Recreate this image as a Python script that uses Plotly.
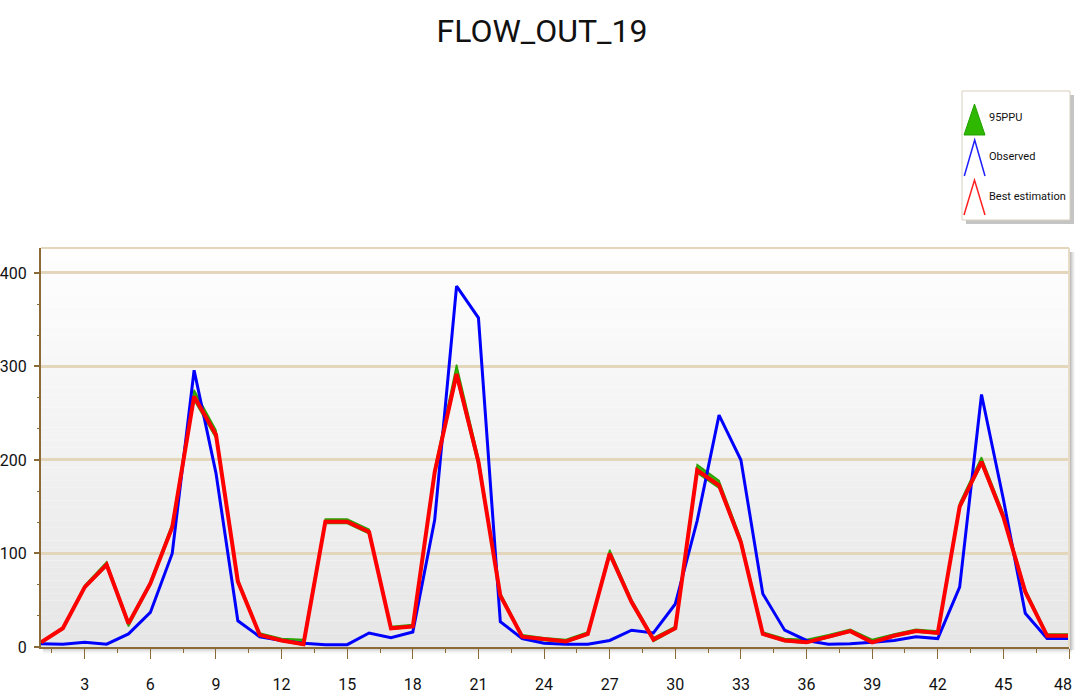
import plotly.graph_objects as go

# ---------------- data ----------------
steps = list(range(1, 49))

observed = [3.5, 3, 5, 3, 14, 37, 100, 296, 186, 28, 11, 7, 4, 2.5, 2.5, 15,
            10, 16, 136, 386, 352, 27, 9, 4, 3, 3, 7, 18, 15, 46, 135, 248,
            200, 57, 18, 7, 3, 3.5, 5, 7, 11, 9, 64, 270, 158, 36, 9, 9]

best_estimation = [5, 20, 64, 88, 25, 68, 128, 268, 227, 70, 13, 7, 3, 134, 134, 123,
                   20, 22, 187, 292, 198, 55, 11, 8, 6, 14, 100, 48, 8, 20, 189, 173,
                   112, 14, 7, 5, 11, 17, 5, 12, 17, 15, 150, 198, 139, 59, 12, 12]

ppu_upper = [6, 21, 66, 91, 27, 70, 132, 275, 232, 73, 15, 9, 8, 137, 137, 126,
             22, 24, 191, 302, 203, 58, 13, 10, 8, 16, 104, 51, 10, 22, 195, 178,
             116, 16, 9, 8, 13, 19, 8, 14, 19, 17, 154, 203, 143, 62, 14, 14]

ppu_lower = [4, 19, 63, 86, 22, 66, 126, 264, 223, 68, 12, 6, 2, 132, 132, 121,
             19, 21, 184, 288, 193, 54, 10, 7, 5, 13, 97, 46, 6, 19, 186, 170,
             110, 13, 6, 4, 10, 16, 4, 11, 16, 14, 148, 195, 137, 57, 11, 11]

x_tick_values = [3, 6, 9, 12, 15, 18, 21, 24, 27, 30, 33, 36, 39, 42, 45, 48]
x_tick_labels = ["3", "6", "9", "12", "15", "18", "21", "24", "27", "30", "33",
                 "36", "39", "42", "45", "48"]

title_text = "FLOW_OUT_19"
legend_labels = ["95PPU", "Observed", "Best estimation"]

# ---------------- styling ----------------
W, H = 1075, 697
ML, MR, MT, MB = 41, 6, 248, 50
PL, PR, PT, PB = ML, W - MR, MT, H - MB

FONT = "Roboto, Liberation Sans, sans-serif"
GRID = "#e3d6bb"
AXIS = "#8a6a35"


def fx(px):
    return (px - PL) / (PR - PL)


def fy(py):
    return (PB - py) / (PB - PT)


fig = go.Figure()

fig.add_trace(go.Scatter(x=steps, y=ppu_lower, mode="lines",
                         line=dict(color="#2aa000", width=1.5),
                         hoverinfo="skip", showlegend=False))
fig.add_trace(go.Scatter(x=steps, y=ppu_upper, mode="lines", fill="tonexty",
                         fillcolor="#33b800",
                         line=dict(color="#2aa000", width=1.5),
                         name=legend_labels[0], showlegend=False))
fig.add_trace(go.Scatter(x=steps, y=observed, mode="lines",
                         line=dict(color="#0000ff", width=3),
                         name=legend_labels[1], showlegend=False))
fig.add_trace(go.Scatter(x=steps, y=best_estimation, mode="lines",
                         line=dict(color="#ff0000", width=4),
                         name=legend_labels[2], showlegend=False))

shapes = []
# gradient plot background
nb = 60
for i in range(nb):
    t = i / (nb - 1)
    c = int(round(254 - 24 * t))
    shapes.append(dict(type="rect", xref="paper", yref="paper",
                       x0=0, x1=1, y0=1 - (i + 1) / nb, y1=1 - i / nb,
                       fillcolor=f"rgb({c},{c},{c})", line=dict(width=0),
                       layer="below"))
# shadow under x axis and right of plot
for k, col in enumerate(["#bdbdbd", "#cfcfcf", "#dedede", "#ececec", "#f6f6f6"]):
    shapes.append(dict(type="line", xref="paper", yref="paper",
                       x0=fx(PL + 2), x1=fx(PR + 3), y0=fy(PB + 2 + k), y1=fy(PB + 2 + k),
                       line=dict(color=col, width=1.2), layer="below"))
    shapes.append(dict(type="line", xref="paper", yref="paper",
                       x0=fx(PR + 1.5 + k), x1=fx(PR + 1.5 + k), y0=fy(PT + 4), y1=fy(PB + 3),
                       line=dict(color=col, width=1.2), layer="below"))
# top and right border
shapes.append(dict(type="line", xref="paper", yref="paper", x0=0, x1=1, y0=1, y1=1,
                   line=dict(color=GRID, width=2)))
shapes.append(dict(type="line", xref="paper", yref="paper", x0=1, x1=1, y0=0, y1=1,
                   line=dict(color="#e6dcc6", width=2)))

# legend box
shapes.append(dict(type="rect", xref="paper", yref="paper",
                   x0=fx(966), x1=fx(1074), y0=fy(224), y1=fy(95),
                   fillcolor="#c4c4c4", line=dict(width=0)))
shapes.append(dict(type="rect", xref="paper", yref="paper",
                   x0=fx(962), x1=fx(1070), y0=fy(220), y1=fy(91),
                   fillcolor="#ffffff", line=dict(color="#d9d0bd", width=1)))


def path(points, close=False):
    s = "M " + " L ".join(f"{fx(a):.5f},{fy(b):.5f}" for a, b in points)
    return s + (" Z" if close else "")


shapes.append(dict(type="path", xref="paper", yref="paper",
                   path=path([(974.5, 104), (985, 135), (964, 135)], close=True),
                   fillcolor="#2fb800", line=dict(color="#22a000", width=1)))
shapes.append(dict(type="path", xref="paper", yref="paper",
                   path=path([(964.3, 176), (974.7, 140), (985, 176)]),
                   line=dict(color="#2020ff", width=1.5)))
shapes.append(dict(type="path", xref="paper", yref="paper",
                   path=path([(964, 215), (974.5, 180), (985, 215)]),
                   line=dict(color="#ff2020", width=1.5)))

annotations = []
for lbl, yy in zip(legend_labels, [118, 156, 197]):
    annotations.append(dict(xref="paper", yref="paper", x=fx(987), y=fy(yy),
                            xanchor="left", yanchor="middle", showarrow=False,
                            text=lbl, font=dict(family=FONT, size=11, color="#111111")))

# last x tick label sits at the right edge: place it as right-anchored text so it is not clipped
tick_font = dict(family=FONT, size=16, color="#111111")
shown_labels = x_tick_labels[:-1] + [""]
annotations.append(dict(xref="paper", yref="paper", x=fx(1074), y=fy(684),
                        xanchor="right", yanchor="middle", showarrow=False,
                        text=x_tick_labels[-1], font=tick_font))

fig.update_layout(
    width=W, height=H,
    margin=dict(l=ML, r=MR, t=MT, b=MB, pad=0, autoexpand=False),
    paper_bgcolor="#ffffff", plot_bgcolor="#ffffff",
    title=dict(text=title_text, x=542 / W, xanchor="center", xref="container",
               y=1 - 31 / H, yanchor="middle",
               font=dict(family=FONT, size=32, color="#111111")),
    shapes=shapes, annotations=annotations,
    showlegend=False,
    xaxis=dict(range=[1, 48], tickmode="array", tickvals=x_tick_values,
               ticktext=shown_labels, showgrid=False, zeroline=False,
               automargin=False, ticklabeloverflow="allow",
               showline=True, linecolor=AXIS, linewidth=2,
               ticks="outside", ticklen=10, tickwidth=1.2, tickcolor=AXIS,
               minor=dict(dtick=1.5, tick0=0, ticks="outside", ticklen=4,
                          tickwidth=1.2, tickcolor=AXIS, showgrid=False),
               ticklabelstandoff=12,
               tickfont=tick_font),
    yaxis=dict(range=[0, 426.7], tick0=0, dtick=100, showgrid=True,
               automargin=False, ticklabeloverflow="allow",
               gridcolor=GRID, gridwidth=2.5, zeroline=False,
               showline=True, linecolor=AXIS, linewidth=2,
               ticks="outside", ticklen=5, tickwidth=1.5, tickcolor=AXIS,
               minor=dict(dtick=100 / 3, tick0=0, ticks="outside", ticklen=2,
                          tickwidth=1.2, tickcolor=AXIS, showgrid=False),
               ticklabelstandoff=4,
               tickfont=tick_font),
)

fig.write_html("out.html", config={"displayModeBar": False},
               post_script="document.body.style.margin='0';document.body.style.overflow='hidden';")
